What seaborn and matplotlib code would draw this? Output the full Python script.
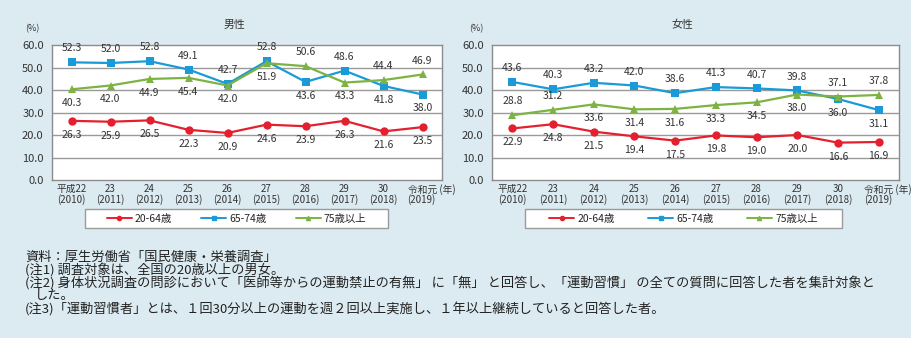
import matplotlib
matplotlib.use("Agg")
import matplotlib.pyplot as plt
import matplotlib.patches as mpatches
import seaborn as sns
import pandas as pd
import numpy as np

# ---- data ----
years = ["2010", "2011", "2012", "2013", "2014", "2015", "2016", "2017", "2018", "2019"]
year_labels = ["平成22\n(2010)", "23\n(2011)", "24\n(2012)", "25\n(2013)", "26\n(2014)",
               "27\n(2015)", "28\n(2016)", "29\n(2017)", "30\n(2018)", "令和元 (年)\n(2019)"]
groups = ["20-64歳", "65-74歳", "75歳以上"]

men_20_64 = [26.3, 25.9, 26.5, 22.3, 20.9, 24.6, 23.9, 26.3, 21.6, 23.5]
men_65_74 = [52.3, 52.0, 52.8, 49.1, 42.7, 52.8, 43.6, 48.6, 41.8, 38.0]
men_75 = [40.3, 42.0, 44.9, 45.4, 42.0, 51.9, 50.6, 43.3, 44.4, 46.9]

women_20_64 = [22.9, 24.8, 21.5, 19.4, 17.5, 19.8, 19.0, 20.0, 16.6, 16.9]
women_65_74 = [43.6, 40.3, 43.2, 42.0, 38.6, 41.3, 40.7, 39.8, 36.0, 31.1]
women_75 = [28.8, 31.2, 33.6, 31.4, 31.6, 33.3, 34.5, 38.0, 37.1, 37.8]

# label placement (a = above, b = below)
men_place = [
    list("bbbbbbbbbb"),
    list("aaaaaababb"),
    list("bbbbbbabaa"),
]
women_place = [
    list("bbbbbbbbbb"),
    list("aaaaaaaabb"),
    list("aabbbbbbaa"),
]

notes = [
    "資料：厚生労働省「国民健康・栄養調査」",
    "(注1) 調査対象は、全国の20歳以上の男女。",
    "(注2) 身体状況調査の問診において「医師等からの運動禁止の有無」 に「無」 と回答し、「運動習慣」 の全ての質問に回答した者を集計対象と",
    "した。",
    "(注3)「運動習慣者」とは、１回30分以上の運動を週２回以上実施し、１年以上継続していると回答した者。",
]

BG = "#dcebf1"
colors = {"20-64歳": "#e5202e", "65-74歳": "#1a9ad6", "75歳以上": "#7cb342"}
markers = {"20-64歳": "o", "65-74歳": "s", "75歳以上": "^"}

sns.set_theme(style="white")
plt.rcParams["font.family"] = ["Noto Sans CJK JP", "DejaVu Sans"]

W, H = 912, 338
fig = plt.figure(figsize=(W / 100, H / 100), dpi=100, facecolor=BG)


def make_df(vals):
    rows = []
    for g, v in zip(groups, vals):
        for i, y in enumerate(v):
            rows.append({"x": i, "value": y, "group": g})
    return pd.DataFrame(rows)


def draw(ax, vals, places, title, yl_x, box, colsp):
    df = make_df(vals)
    ax.set_facecolor("white")
    for yv in [10, 20, 30, 40, 50]:
        ax.axhline(yv, color="#9a9a9a", lw=1.0, zorder=0)
    sns.lineplot(data=df, x="x", y="value", hue="group", style="group",
                 palette=colors, markers=markers, dashes=False, ax=ax,
                 lw=1.6, markersize=6, markeredgewidth=0, legend=False, zorder=3)
    for g, v, pl in zip(groups, vals, places):
        for i, (y, p) in enumerate(zip(v, pl)):
            off = 10 if p == "a" else -10
            ax.annotate(f"{y:.1f}", (i, y), xytext=(0, off), textcoords="offset points",
                        ha="center", va="center", fontsize=7.5, color="#333333", zorder=4)
    ax.set_xlim(-0.5, 9.5)
    ax.set_ylim(0, 60)
    ax.set_yticks(np.arange(0, 61, 10))
    ax.set_yticklabels([f"{t:.1f}" for t in np.arange(0, 61, 10)], fontsize=8, color="#333333")
    ax.set_xticks(range(10))
    ax.set_xticklabels(year_labels[:-1] + [""], fontsize=7, color="#333333", linespacing=0.95)
    # last label: first line extends to the right, as in the source
    ax.annotate(year_labels[-1], xy=(9, 0), xycoords=("data", "axes fraction"),
                xytext=(-15, -4), textcoords="offset pixels", ha="left", va="top",
                multialignment="left", fontsize=7, color="#333333", linespacing=0.95,
                annotation_clip=False)
    ax.tick_params(axis="y", length=0, pad=6)
    ax.tick_params(axis="x", length=0, pad=3)
    ax.set_xlabel("")
    ax.set_ylabel("")
    for s in ax.spines.values():
        s.set_color("#8c8c8c")
        s.set_linewidth(1.0)
    ax.text(0.468, 1.148, title, transform=ax.transAxes, ha="center", va="center", fontsize=7.8, color="#333333")
    ax.text(yl_x, 1.118, "(%)", transform=ax.transAxes, ha="center", va="center", fontsize=6.5, color="#333333")

    # legend box
    x0, x1, y0, y1 = box
    rect = mpatches.Rectangle((x0 / W, 1 - y1 / H), (x1 - x0) / W, (y1 - y0) / H,
                              transform=fig.transFigure, facecolor="white", edgecolor="#9a9a9a",
                              lw=1.0, zorder=1)
    fig.patches.append(rect)
    handles = [plt.Line2D([0], [0], color=colors[g], marker=markers[g], markersize=3, lw=1.4, label=g) for g in groups]
    leg = fig.legend(handles=handles, loc="center",
                     bbox_to_anchor=((x0 + x1) / 2 / W, 1 - (y0 + y1) / 2 / H), ncol=3,
                     frameon=False, fontsize=7.5, handlelength=2.4, columnspacing=colsp,
                     handletextpad=0.3, borderpad=0.2)
    return leg


ax1 = fig.add_axes([52 / W, 1 - 180 / H, 390 / W, 135 / H])
ax2 = fig.add_axes([492 / W, 1 - 180 / H, 407 / W, 135 / H])
draw(ax1, [men_20_64, men_65_74, men_75], men_place, "男性", -0.051, (85, 388, 209, 228), 2.8)
draw(ax2, [women_20_64, women_65_74, women_75], women_place, "女性", -0.039, (525, 842, 209, 228), 3.2)

ys = [257, 270, 283, 296, 309]
xs = [25, 25, 25, 35, 25]
for t, x, y in zip(notes, xs, ys):
    fig.text(x / W, 1 - y / H, t, ha="left", va="center", fontsize=9.5, color="#222222")

fig.savefig("out.png", dpi=100, facecolor=BG)
